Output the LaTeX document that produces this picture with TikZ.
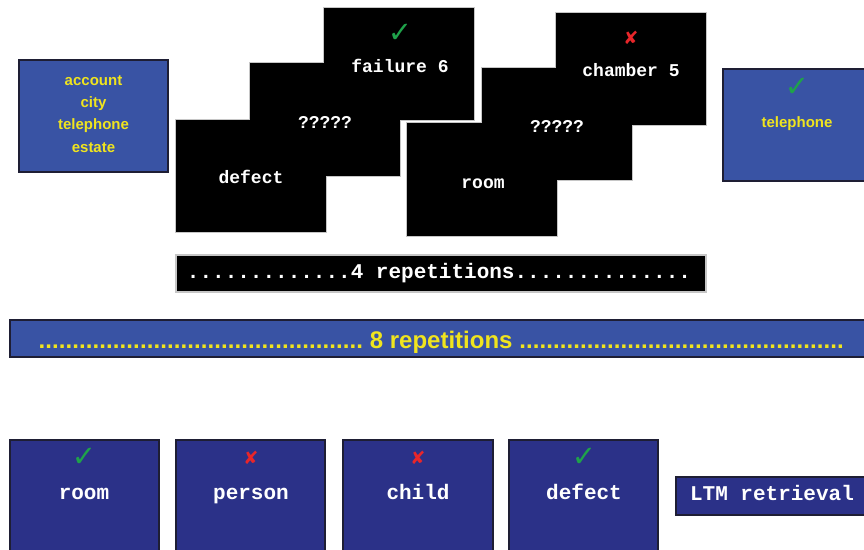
\documentclass[tikz,border=0pt]{standalone}
\usepackage{fontspec}
\setmainfont{Liberation Sans}
\newfontfamily\monof{Liberation Mono}
\newfontfamily\symf{DejaVu Sans}
\definecolor{midblue}{HTML}{3953A4}
\definecolor{navyblue}{HTML}{2B3188}
\definecolor{edgecol}{HTML}{1E1E34}
\definecolor{yelw}{HTML}{F0E41E}
\definecolor{okgreen}{HTML}{1FA24A}
\definecolor{nored}{HTML}{E8262A}
\tikzset{
  boxbase/.style={anchor=north west, inner sep=0pt, outer sep=0pt},
  bluebox/.style={boxbase, fill=midblue, draw=edgecol, line width=1.2pt},
  navybox/.style={boxbase, fill=navyblue, draw=edgecol, line width=1.2pt},
  screen/.style={boxbase, fill=black, draw=gray!45, line width=1.2pt},
  screenfill/.style={fill=black},
  yelwords/.style={font=\bfseries\fontsize{15}{22.3}\selectfont, text=yelw, align=center, inner sep=0pt},
  monotext/.style={font=\monof\bfseries\fontsize{18}{18}\selectfont, text=white, inner sep=0pt, text height=0.55em, text depth=0.15em},
  bigmono/.style={font=\monof\bfseries\fontsize{21}{21}\selectfont, text=white, inner sep=0pt, text height=0.55em, text depth=0.15em},
  okmark/.style={font=\symf\bfseries\fontsize{29}{29}\selectfont, text=okgreen, inner sep=0pt},
  nomark/.style={font=\symf\bfseries\fontsize{18}{18}\selectfont, text=nored, inner sep=0pt},
}
\newcommand{\dotlead}{\xleaders\hbox to 6.7pt{\hss.\hss}\hfill}
\begin{document}
\begin{tikzpicture}[x=1pt,y=-1pt]
\useasboundingbox (0,0) rectangle (864,549);
\clip (0,0) rectangle (864,549);
\fill[white] (0,0) rectangle (864,549);

% left blue box
\node[bluebox, minimum width=149pt, minimum height=112pt] (lbox) at (19,60) {};
\node[yelwords] (lwords) at (93.5,114) {account\\city\\telephone\\estate};

% group 1 screens (outlines first, then fills so they merge)
\node[screen, minimum width=150pt, minimum height=112pt] (s1c) at (324,8) {};
\node[screen, minimum width=150pt, minimum height=113pt] (s1b) at (250,63) {};
\node[screen, minimum width=150pt, minimum height=112pt] (s1a) at (176,120) {};
% group 2 screens
\node[screen, minimum width=150pt, minimum height=112pt] (s2c) at (556,13) {};
\node[screen, minimum width=150pt, minimum height=112pt] (s2b) at (482,68) {};
\node[screen, minimum width=150pt, minimum height=113pt] (s2a) at (407,123) {};
\foreach \s in {s1a,s1b,s1c,s2a,s2b,s2c}
  \fill[screenfill] (\s.north west) rectangle (\s.south east);

\node[okmark] (m1) at (400,33) {✓};
\node[monotext] (t1c) at (400,70) {failure 6};
\node[monotext] (t1b) at (325,126) {?????};
\node[monotext] (t1a) at (251,181) {defect};

\node[nomark] (m2) at (631,38) {✘};
\node[monotext] (t2c) at (631,74) {chamber 5};
\node[monotext] (t2b) at (557,130) {?????};
\node[monotext] (t2a) at (483,186) {room};

% right blue box
\node[bluebox, minimum width=150pt, minimum height=112pt] (rbox) at (723,69) {};
\node[okmark] (m3) at (797,87) {✓};
\node[yelwords] (rword) at (797,124) {telephone};

% 4 repetitions bar
\node[screen, minimum width=530pt, minimum height=37pt] (bar4) at (176,255) {};
\node[bigmono] (bar4t) at (439,276) {.............4 repetitions..............};

% 8 repetitions bar
\node[bluebox, minimum width=862pt, minimum height=37pt] (bar8) at (10,320) {};
\node[font=\bfseries\fontsize{24}{24}\selectfont, text=yelw, inner sep=0pt] (bar8t) at (441,342)
  {\hbox to 805pt{\dotlead\ 8 repetitions\ \dotlead}};

% bottom boxes
\node[navybox, minimum width=149pt, minimum height=120pt] (b1) at (10,440) {};
\node[navybox, minimum width=149pt, minimum height=120pt] (b2) at (176,440) {};
\node[navybox, minimum width=150pt, minimum height=120pt] (b3) at (343,440) {};
\node[navybox, minimum width=149pt, minimum height=120pt] (b4) at (509,440) {};
\node[navybox, minimum width=200pt, minimum height=38pt] (b5) at (676,477) {};

\node[okmark] (bm1) at (84,457) {✓};
\node[nomark] (bm2) at (251,458) {✘};
\node[nomark] (bm3) at (418,458) {✘};
\node[okmark] (bm4) at (584,457) {✓};

\node[bigmono] (bt1) at (84,497) {room};
\node[bigmono] (bt2) at (251,497) {person};
\node[bigmono] (bt3) at (418,497) {child};
\node[bigmono] (bt4) at (584,497) {defect};
\node[bigmono] (bt5) at (772,498) {LTM retrieval};
\end{tikzpicture}
\end{document}
